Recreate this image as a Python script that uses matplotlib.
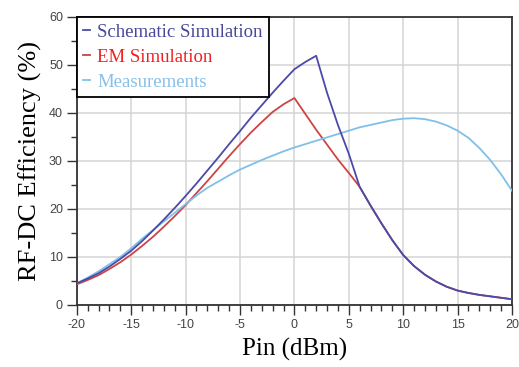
import matplotlib
matplotlib.use("Agg")
import matplotlib.pyplot as plt
import numpy as np
from matplotlib.ticker import MultipleLocator

plt.rcParams["axes.unicode_minus"] = False

# Pin sweep (dBm)
pin = np.arange(-20, 21, 1)

# schematic simulation (%)
schematic = [4.5, 5.5, 6.6, 8.0, 9.6, 11.3, 13.3, 15.5, 17.8, 20.2,
             22.7, 25.3, 28.0, 30.7, 33.5, 36.2, 39.0, 41.6, 44.2, 46.7,
             49.1, 50.6, 51.9, 44.2, 37.5, 31.5, 24.6, 20.7, 17.0, 13.5,
             10.4, 8.1, 6.3, 4.9, 3.8, 3.0, 2.5, 2.1, 1.8, 1.5, 1.2]

# EM simulation (%)
em = [4.3, 5.2, 6.2, 7.5, 8.9, 10.5, 12.3, 14.2, 16.3, 18.5,
      20.8, 23.3, 25.8, 28.4, 31.0, 33.5, 35.9, 38.1, 40.2, 41.8,
      43.1, 39.8, 36.5, 33.4, 30.3, 27.5, 24.6, 20.7, 17.0, 13.5,
      10.4, 8.1, 6.3, 4.9, 3.8, 3.0, 2.5, 2.1, 1.8, 1.5, 1.2]

# measurements (%)
measured = [4.5, 5.7, 7.0, 8.5, 10.0, 11.8, 13.8, 15.6, 17.4, 19.2,
            21.0, 22.8, 24.4, 25.7, 27.0, 28.2, 29.2, 30.2, 31.1, 32.0,
            32.8, 33.5, 34.2, 34.9, 35.6, 36.3, 37.0, 37.5, 38.0, 38.5,
            38.8, 38.9, 38.7, 38.2, 37.4, 36.3, 34.8, 32.7, 30.2, 27.2, 23.8]

labels = ["Schematic Simulation", "EM Simulation", "Measurements"]
line_colors = ["#4a4aa8", "#cc4444", "#80c0e8"]
text_colors = ["#47479a", "#ee2020", "#88c0e6"]

fig = plt.figure(figsize=(5.19, 3.67), dpi=100)
ax = fig.add_axes([0.148, 0.169, 0.8385, 0.785])

ax.plot(pin, em, color=line_colors[1], lw=1.3, label=labels[1], zorder=3)
ax.plot(pin, schematic, color=line_colors[0], lw=1.3, label=labels[0], zorder=4)
ax.plot(pin, measured, color=line_colors[2], lw=1.3, label=labels[2], zorder=3)

ax.set_xlim(-20, 20)
ax.set_ylim(0, 60)
ax.xaxis.set_major_locator(MultipleLocator(5))
ax.xaxis.set_minor_locator(MultipleLocator(1))
ax.yaxis.set_major_locator(MultipleLocator(10))
ax.yaxis.set_minor_locator(MultipleLocator(5))
ax.grid(True, which="major", color="#d4d4d4", lw=1.1)
ax.set_axisbelow(True)

ax.tick_params(which="major", length=7, width=1, color="#333333",
               labelsize=9, labelcolor="#444444", pad=3)
ax.tick_params(which="minor", length=4, width=1, color="#333333")
for lab in ax.get_xticklabels() + ax.get_yticklabels():
    lab.set_fontfamily("Liberation Sans")
for s in ax.spines.values():
    s.set_color("#333333")
    s.set_linewidth(1.3)

ax.set_xlabel("Pin (dBm)", family="Liberation Serif", fontsize=18, labelpad=5)
ax.set_ylabel("RF-DC Efficiency (%)", family="Liberation Serif", fontsize=19, labelpad=5)

handles, labs = ax.get_legend_handles_labels()
order = [1, 0, 2]
leg = ax.legend([handles[i] for i in order], [labs[i] for i in order],
                loc="upper left", bbox_to_anchor=(0, 1), borderaxespad=0,
                fancybox=False, edgecolor="black", framealpha=1,
                prop={"family": "Liberation Serif", "size": 13.5},
                handlelength=0.35, handletextpad=0.4, labelspacing=0.42,
                borderpad=0.35)
leg.get_frame().set_linewidth(1.3)
for t, c in zip(leg.get_texts(), text_colors):
    t.set_color(c)
leg.set_zorder(10)

fig.savefig("out.png", dpi=100)
